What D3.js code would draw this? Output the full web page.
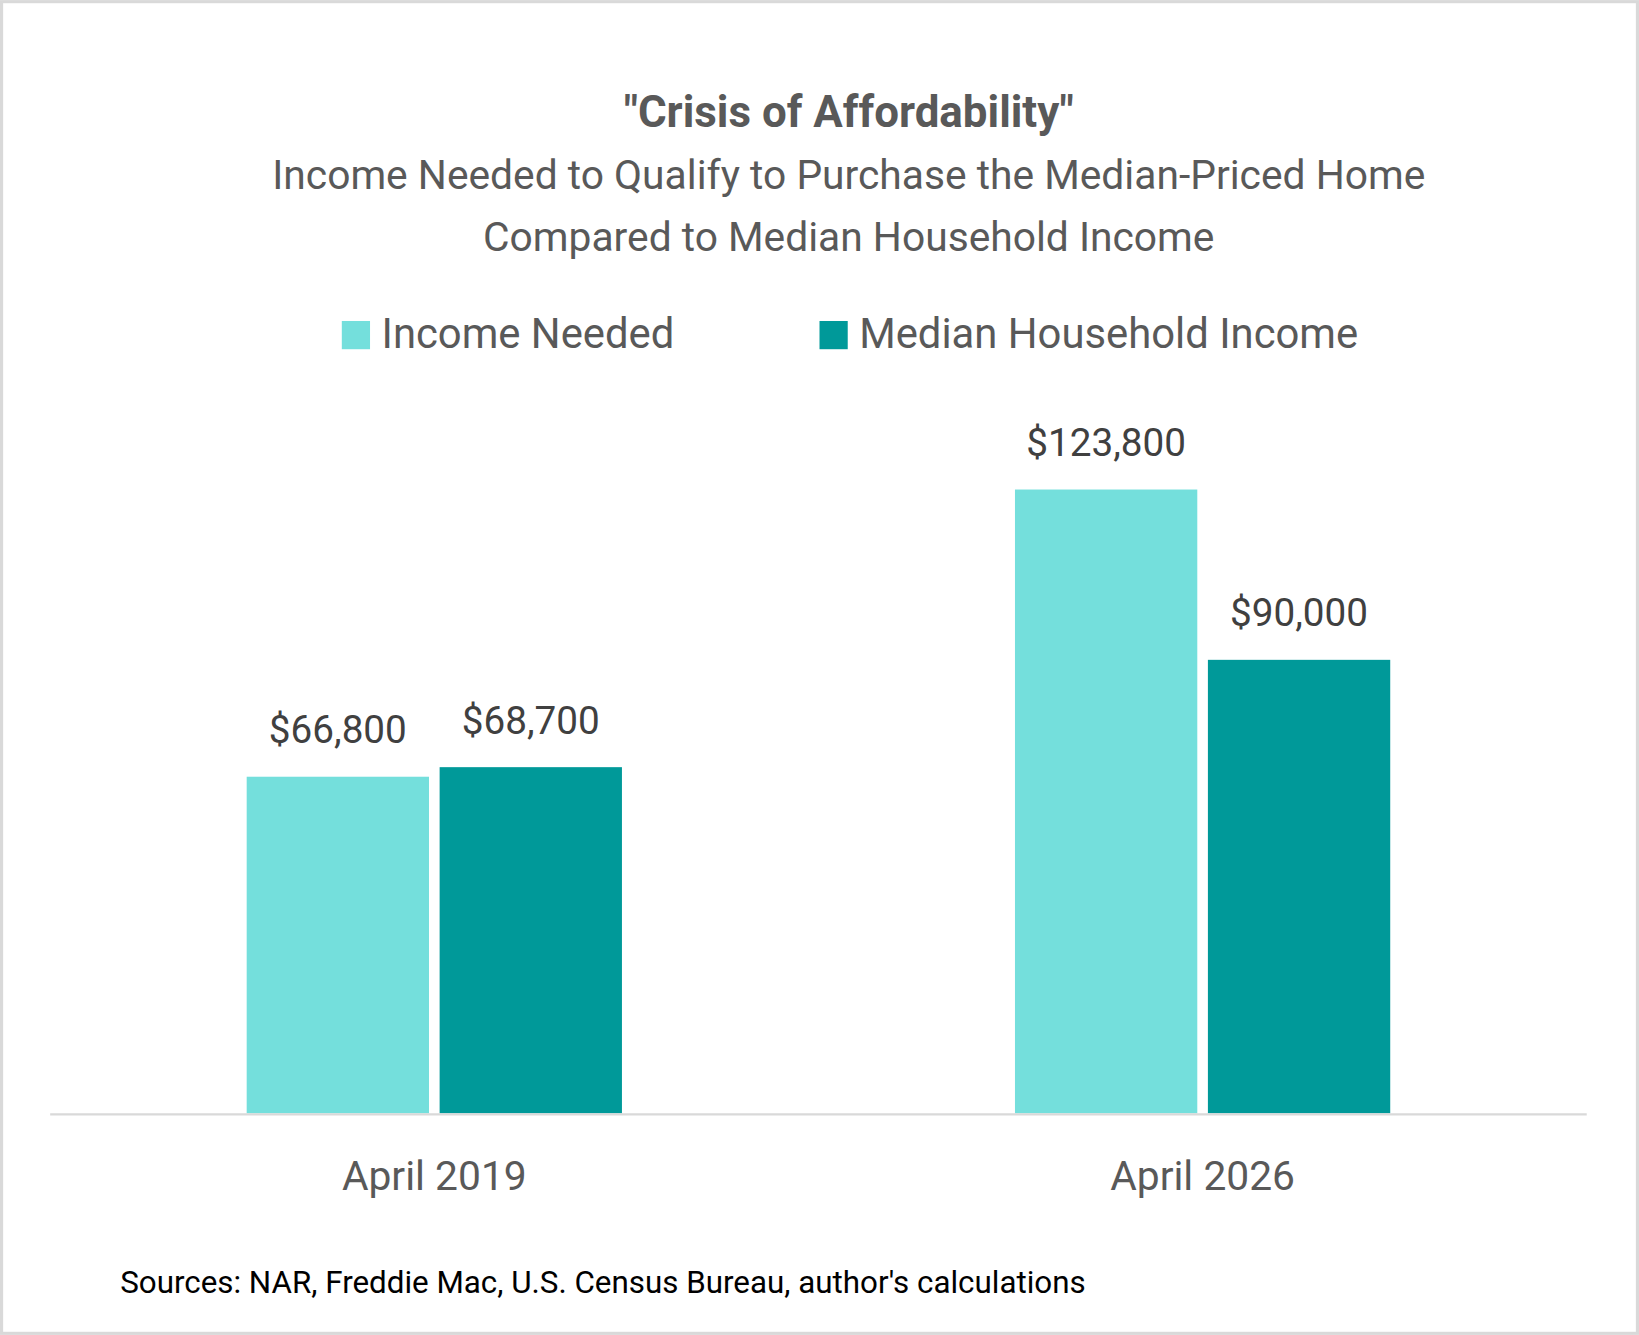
<!DOCTYPE html>
<html><head><meta charset="utf-8">
<script src="https://cdn.jsdelivr.net/npm/d3@7"></script>
<style>body{margin:0;background:#fff}svg{display:block}</style></head>
<body><script>
const categories=["April 2019","April 2026"];
const seriesNames=["Income Needed","Median Household Income"];
const incomeNeeded=[66800,123800];
const medianIncome=[68700,90000];
const colors=["#74DFDC","#009999"];
const W=1568,H=1277;
const svg=d3.select("body").append("svg").attr("width",1639).attr("height",1335).attr("viewBox",`0 0 ${W} ${H}`).style("font-family","Roboto, 'Noto Sans', sans-serif");
svg.append("rect").attr("x",1.5).attr("y",1.5).attr("width",W-3).attr("height",H-3).attr("fill","#fff").attr("stroke","#d9d9d9").attr("stroke-width",3);
svg.append("text").attr("x",812).attr("y",121).attr("text-anchor","middle").attr("font-size",42).attr("font-weight","bold").attr("fill","#595959").text('"Crisis of Affordability"');
svg.append("text").attr("x",812).attr("y",181).attr("text-anchor","middle").attr("font-size",39).attr("fill","#595959").text("Income Needed to Qualify to Purchase the Median-Priced Home");
svg.append("text").attr("x",812).attr("y",240).attr("text-anchor","middle").attr("font-size",39).attr("fill","#595959").text("Compared to Median Household Income");
const leg=[[327,365],[784,822]];
seriesNames.forEach((n,i)=>{
  svg.append("rect").attr("x",leg[i][0]).attr("y",307).attr("width",27).attr("height",27).attr("fill",colors[i]);
  svg.append("text").attr("x",leg[i][1]).attr("y",333).attr("font-size",40).attr("fill","#595959").text(n);
});
const base=1065;
const x0=d3.scaleBand().domain(categories).range([48,1518]);
const x1=d3.scaleBand().domain(seriesNames).range([0,359]).paddingInner(0.055);
const y=d3.scaleLinear().domain([0,66800]).range([base,743]);
const fmt=v=>"$"+d3.format(",")(v);
categories.forEach((c,ci)=>{
  const vals=[incomeNeeded[ci],medianIncome[ci]];
  const gx=x0(c)+x0.bandwidth()/2-179.5;
  vals.forEach((v,si)=>{
    const bx=gx+x1(seriesNames[si]);
    svg.append("rect").attr("x",bx).attr("y",y(v)).attr("width",x1.bandwidth()).attr("height",base-y(v)).attr("fill",colors[si]);
    svg.append("text").attr("x",bx+x1.bandwidth()/2).attr("y",y(v)-32).attr("text-anchor","middle").attr("font-size",37).attr("fill","#404040").text(fmt(v));
  });
  svg.append("text").attr("x",x0(c)+x0.bandwidth()/2).attr("y",1138).attr("text-anchor","middle").attr("font-size",39).attr("fill","#595959").text(c);
});
svg.append("line").attr("x1",48).attr("x2",1518).attr("y1",base+1).attr("y2",base+1).attr("stroke","#d9d9d9").attr("stroke-width",2);
svg.append("text").attr("x",115).attr("y",1237).attr("font-size",30).attr("fill","#000").text("Sources: NAR, Freddie Mac, U.S. Census Bureau, author's calculations");
</script></body></html>
